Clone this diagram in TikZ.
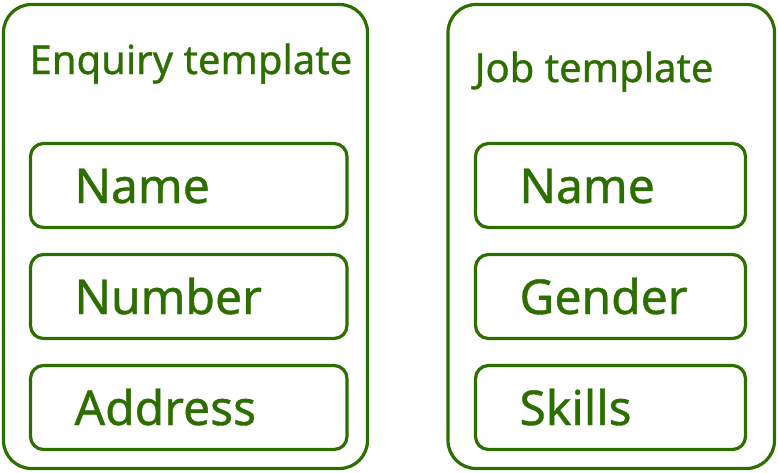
\documentclass[tikz,border=0pt]{standalone}
\usepackage{fontspec}
\setmainfont{Noto Sans}[FakeBold=0.8]
\definecolor{leaf}{RGB}{45,110,0}
\begin{document}
\begin{tikzpicture}
  [x=1pt,y=-1pt,every node/.style={draw=leaf,text=leaf,line width=3.2pt},
   template/.style={rounded corners=28pt,inner sep=0pt},
   field/.style={rounded corners=13pt,minimum height=84pt,inner xsep=44pt,
     align=left,text height=35pt,text depth=0pt,font=\fontsize{48}{50}\selectfont},
   title/.style={draw=none,anchor=base west,inner sep=0pt,font=\fontsize{40}{42}\selectfont}]
\useasboundingbox (0,0) rectangle (778,472);

\node (enq)[template,minimum width=364pt,minimum height=464pt] at (185.5,236.5) {};
  \node (job)[template,minimum width=326.5pt,minimum height=464pt] at (611.25,236.5) {};

\node (enqtitle)[title] at (28,74) {Enquiry template};
  \node (jobtitle)[title] at (473,82) {Job template};

% enquiry fields
\node (ename)[field,text width=228.5pt] at (188.75,185.5) {Name};
  \node (enumber)[field,text width=228.5pt] at (188.75,296.5) {Number};
  \node (eaddress)[field,text width=228.5pt] at (188.75,407.5) {Address};

% job fields
\node (jname)[field,text width=182pt] at (610.5,185.5) {Name};
  \node (jgender)[field,text width=182pt] at (610.5,296.5) {Gender};
  \node (jskills)[field,text width=182pt] at (610.5,407.5) {Skills};

\end{tikzpicture}
\end{document}
